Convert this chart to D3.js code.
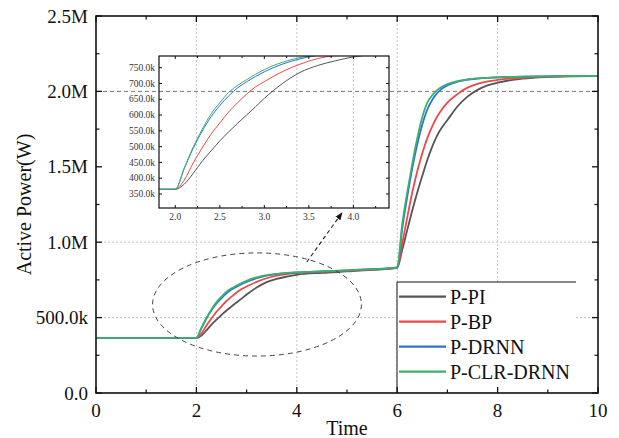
<!DOCTYPE html>
<html><head><meta charset="utf-8">
<script src="https://cdn.jsdelivr.net/npm/d3@7"></script>
<style>body{margin:0;background:#fff}svg{display:block}</style>
</head><body><svg id="c" width="619" height="438"></svg>
<script>
// ---------------- data ----------------
const time = [0, 2, 2.1, 2.2, 2.3, 2.4, 2.5, 2.6, 2.7, 2.8, 2.9, 3.0, 3.2, 3.4, 3.6, 3.8, 4.0, 4.5, 5.0, 5.5,
  6.0, 6.1, 6.2, 6.3, 6.4, 6.5, 6.6, 6.7, 6.8, 6.9, 7.0, 7.2, 7.4, 7.6, 7.8, 8.0, 8.5, 9.0, 9.5, 10];
const pPI = [365000, 365000, 381000, 415000, 453000, 486000, 518000, 547000, 574000, 600000, 626000, 653000, 699000, 735000, 757000, 772000, 784000, 797000, 806000, 816000,
  830000, 950000, 1080000, 1210000, 1330000, 1440000, 1545000, 1635000, 1710000, 1765000, 1810000, 1900000, 1965000, 2010000, 2040000, 2058000, 2085000, 2096000, 2100000, 2102000];
const pBP = [365000, 365000, 394000, 448000, 495000, 539000, 575000, 610000, 639000, 666000, 689000, 706000, 737000, 761000, 779000, 789000, 795000, 803000, 810000, 819000,
  832000, 990000, 1165000, 1330000, 1470000, 1590000, 1690000, 1770000, 1835000, 1885000, 1925000, 1982000, 2025000, 2050000, 2066000, 2076000, 2090000, 2098000, 2101000, 2103000];
const pDRNN = [365000, 365000, 430000, 494000, 548000, 594000, 630000, 661000, 686000, 705000, 722000, 737000, 761000, 778000, 789000, 795000, 799000, 807000, 813000, 821000,
  833000, 1090000, 1300000, 1490000, 1650000, 1780000, 1880000, 1945000, 1990000, 2020000, 2040000, 2064000, 2078000, 2085000, 2090000, 2093000, 2098000, 2100000, 2102000, 2103000];
const pCLRDRNN = [365000, 365000, 432000, 498000, 554000, 603000, 639000, 672000, 694000, 712000, 729000, 744000, 767000, 782000, 790000, 796000, 800000, 807000, 813000, 821000,
  833000, 1120000, 1330000, 1520000, 1690000, 1830000, 1925000, 1975000, 2010000, 2033000, 2048000, 2068000, 2079000, 2086000, 2090000, 2093000, 2098000, 2100000, 2102000, 2103000];

const seriesNames = ["P-PI", "P-BP", "P-DRNN", "P-CLR-DRNN"];
const seriesColors = ["#555555", "#f04848", "#2f70d6", "#3bb06c"];
const seriesValues = [pPI, pBP, pDRNN, pCLRDRNN];

const xTicks = [0, 2, 4, 6, 8, 10];
const xTickLabels = ["0", "2", "4", "6", "8", "10"];
const xMinorTicks = [1, 3, 5, 7, 9];
const yTicks = [0, 500000, 1000000, 1500000, 2000000, 2500000];
const yTickLabels = ["0.0", "500.0k", "1.0M", "1.5M", "2.0M", "2.5M"];
const yMinorTicks = [250000, 750000, 1250000, 1750000, 2250000];
const xGrid = [2, 4, 6, 8];
const yGrid = [500000, 1000000];
const yRefLine = 2000000;

const insetXTicks = [2.0, 2.5, 3.0, 3.5, 4.0];
const insetXTickLabels = ["2.0", "2.5", "3.0", "3.5", "4.0"];
const insetXMinor = [2.25, 2.75, 3.25, 3.75, 4.25];
const insetYTicks = [350000, 400000, 450000, 500000, 550000, 600000, 650000, 700000, 750000];
const insetYTickLabels = ["350.0k", "400.0k", "450.0k", "500.0k", "550.0k", "600.0k", "650.0k", "700.0k", "750.0k"];

// ---------------- layout ----------------
const svg = d3.select("#c");
const W = 619, H = 438;
const m = {l: 96, r: 598, t: 16, b: 393};
const x = d3.scaleLinear().domain([0, 10]).range([m.l, m.r]);
const y = d3.scaleLinear().domain([0, 2500000]).range([m.b, m.t]);
const font = "'Liberation Serif','Times New Roman',serif";

svg.append("rect").attr("width", W).attr("height", H).attr("fill", "#fff");

// grid
const g = svg.append("g");
g.selectAll(".vg").data(xGrid).enter().append("line")
  .attr("x1", d => x(d)).attr("x2", d => x(d)).attr("y1", m.t).attr("y2", m.b)
  .attr("stroke", "#c4c4c4").attr("stroke-width", 1).attr("stroke-dasharray", "2,2");
g.selectAll(".hg").data(yGrid).enter().append("line")
  .attr("x1", m.l).attr("x2", m.r).attr("y1", d => y(d)).attr("y2", d => y(d))
  .attr("stroke", "#c4c4c4").attr("stroke-width", 1).attr("stroke-dasharray", "2,2");
g.append("line").attr("x1", m.l).attr("x2", m.r).attr("y1", y(yRefLine)).attr("y2", y(yRefLine))
  .attr("stroke", "#777").attr("stroke-width", 1).attr("stroke-dasharray", "4,3");

// main lines
const line = d3.line().x((d, i) => x(time[i])).y(d => y(d)).curve(d3.curveMonotoneX);
seriesValues.forEach((vals, k) => {
  svg.append("path").attr("d", line(vals)).attr("fill", "none")
    .attr("stroke", seriesColors[k]).attr("stroke-width", 1.8).attr("stroke-linejoin", "round");
});

// ---------------- inset ----------------
const ins = {l: 159, r: 389, t: 56, b: 208};
const ix = d3.scaleLinear().domain([1.817, 4.40]).range([ins.l, ins.r]);
const iy = d3.scaleLinear().domain([305700, 787000]).range([ins.b, ins.t]);
const ig = svg.append("g");
ig.append("clipPath").attr("id", "iclip").append("rect")
  .attr("x", ins.l).attr("y", ins.t).attr("width", ins.r - ins.l).attr("height", ins.b - ins.t);
ig.append("line").attr("x1", ix(4.0)).attr("x2", ix(4.0)).attr("y1", ins.t).attr("y2", ins.b)
  .attr("stroke", "#c4c4c4").attr("stroke-dasharray", "2,2");
const iline = d3.line().x((d, i) => ix(time[i])).y(d => iy(d)).curve(d3.curveMonotoneX);
const ic = ig.append("g").attr("clip-path", "url(#iclip)");
seriesValues.forEach((vals, k) => {
  ic.append("path").attr("d", iline(vals)).attr("fill", "none")
    .attr("stroke", seriesColors[k]).attr("stroke-width", 1);
});
ig.append("rect").attr("x", ins.l).attr("y", ins.t).attr("width", ins.r - ins.l).attr("height", ins.b - ins.t)
  .attr("fill", "none").attr("stroke", "#111").attr("stroke-width", 1.2);
// inset ticks
[...insetXTicks.map(v => [v, 3]), ...insetXMinor.map(v => [v, 2])].forEach(([v, L]) => {
  ig.append("line").attr("x1", ix(v)).attr("x2", ix(v)).attr("y1", ins.b).attr("y2", ins.b - L).attr("stroke", "#111");
  ig.append("line").attr("x1", ix(v)).attr("x2", ix(v)).attr("y1", ins.t).attr("y2", ins.t + L).attr("stroke", "#111");
});
insetYTicks.forEach(v => {
  ig.append("line").attr("x1", ins.l).attr("x2", ins.l + 3).attr("y1", iy(v)).attr("y2", iy(v)).attr("stroke", "#111");
  ig.append("line").attr("x1", ins.r).attr("x2", ins.r - 3).attr("y1", iy(v)).attr("y2", iy(v)).attr("stroke", "#111");
});
ig.selectAll(".ixl").data(insetXTicks).enter().append("text")
  .attr("x", d => ix(d)).attr("y", ins.b + 12).attr("text-anchor", "middle")
  .attr("font-family", font).attr("font-size", 9.5).attr("fill", "#333")
  .text((d, i) => insetXTickLabels[i]);
ig.selectAll(".iyl").data(insetYTicks).enter().append("text")
  .attr("x", ins.l - 4).attr("y", d => iy(d) + 3.2).attr("text-anchor", "end")
  .attr("font-family", font).attr("font-size", 9.5).attr("fill", "#333")
  .text((d, i) => insetYTickLabels[i]);

// ---------------- annotation ----------------
svg.append("ellipse").attr("cx", x(3.207)).attr("cy", y(587000))
  .attr("rx", x(2.08) - x(0)).attr("ry", y(0) - y(342000))
  .attr("fill", "none").attr("stroke", "#444").attr("stroke-width", 1).attr("stroke-dasharray", "5,4");
const defs = svg.append("defs");
defs.append("marker").attr("id", "ah").attr("viewBox", "0 0 10 10").attr("refX", 9).attr("refY", 5)
  .attr("markerWidth", 7).attr("markerHeight", 7).attr("orient", "auto")
  .append("path").attr("d", "M0,1 L10,5 L0,9 Z").attr("fill", "#111");
svg.append("line").attr("x1", x(4.2)).attr("y1", y(869000)).attr("x2", x(4.9)).attr("y2", y(1195000))
  .attr("stroke", "#222").attr("stroke-width", 1.1).attr("stroke-dasharray", "4,3").attr("marker-end", "url(#ah)");

// ---------------- legend ----------------
const lg = svg.append("g");
const lgL = 397, lgT = 282, lgR = 576;
lg.append("rect").attr("x", lgL).attr("y", lgT).attr("width", lgR - lgL).attr("height", m.b - lgT).attr("fill", "#fff");
lg.append("line").attr("x1", lgL).attr("x2", lgR).attr("y1", lgT).attr("y2", lgT).attr("stroke", "#111").attr("stroke-width", 1);
lg.append("line").attr("x1", lgL).attr("x2", lgL).attr("y1", lgT).attr("y2", m.b).attr("stroke", "#111").attr("stroke-width", 1);
seriesNames.forEach((nm, k) => {
  const yy = 296.7 + k * 25;
  lg.append("line").attr("x1", 399).attr("x2", 446).attr("y1", yy).attr("y2", yy)
    .attr("stroke", seriesColors[k]).attr("stroke-width", 2.2);
  lg.append("text").attr("x", 450).attr("y", yy + 7).attr("font-family", font).attr("font-size", 20)
    .attr("fill", "#111").text(nm);
});

// ---------------- axes ----------------
const ax = svg.append("g");
ax.append("rect").attr("x", m.l).attr("y", m.t).attr("width", m.r - m.l).attr("height", m.b - m.t)
  .attr("fill", "none").attr("stroke", "#111").attr("stroke-width", 1.6);
xTicks.forEach(v => {
  ax.append("line").attr("x1", x(v)).attr("x2", x(v)).attr("y1", m.b).attr("y2", m.b - 6).attr("stroke", "#111").attr("stroke-width", 1.3);
  ax.append("line").attr("x1", x(v)).attr("x2", x(v)).attr("y1", m.t).attr("y2", m.t + 6).attr("stroke", "#111").attr("stroke-width", 1.3);
});
xMinorTicks.forEach(v => {
  ax.append("line").attr("x1", x(v)).attr("x2", x(v)).attr("y1", m.b).attr("y2", m.b - 3.5).attr("stroke", "#111").attr("stroke-width", 1.2);
  ax.append("line").attr("x1", x(v)).attr("x2", x(v)).attr("y1", m.t).attr("y2", m.t + 3.5).attr("stroke", "#111").attr("stroke-width", 1.2);
});
yTicks.forEach(v => {
  ax.append("line").attr("x1", m.l).attr("x2", m.l + 6).attr("y1", y(v)).attr("y2", y(v)).attr("stroke", "#111").attr("stroke-width", 1.3);
  ax.append("line").attr("x1", m.r).attr("x2", m.r - 6).attr("y1", y(v)).attr("y2", y(v)).attr("stroke", "#111").attr("stroke-width", 1.3);
});
yMinorTicks.forEach(v => {
  ax.append("line").attr("x1", m.l).attr("x2", m.l + 3.5).attr("y1", y(v)).attr("y2", y(v)).attr("stroke", "#111").attr("stroke-width", 1.2);
  ax.append("line").attr("x1", m.r).attr("x2", m.r - 3.5).attr("y1", y(v)).attr("y2", y(v)).attr("stroke", "#111").attr("stroke-width", 1.2);
});
ax.selectAll(".xl").data(xTicks).enter().append("text")
  .attr("x", d => x(d)).attr("y", 417).attr("text-anchor", "middle")
  .attr("font-family", font).attr("font-size", 19).attr("fill", "#111")
  .text((d, i) => xTickLabels[i]);
ax.selectAll(".yl").data(yTicks).enter().append("text")
  .attr("x", m.l - 8).attr("y", d => y(d) + 6.5).attr("text-anchor", "end")
  .attr("font-family", font).attr("font-size", 19).attr("fill", "#111")
  .text((d, i) => yTickLabels[i]);
ax.append("text").attr("x", x(5)).attr("y", 435).attr("text-anchor", "middle")
  .attr("font-family", font).attr("font-size", 20).attr("fill", "#111").text("Time");
ax.append("text").attr("transform", `translate(31,${(m.t + m.b) / 2}) rotate(-90)`)
  .attr("text-anchor", "middle").attr("font-family", font).attr("font-size", 20).attr("fill", "#111")
  .text("Active Power(W)");
</script>
</body></html>
